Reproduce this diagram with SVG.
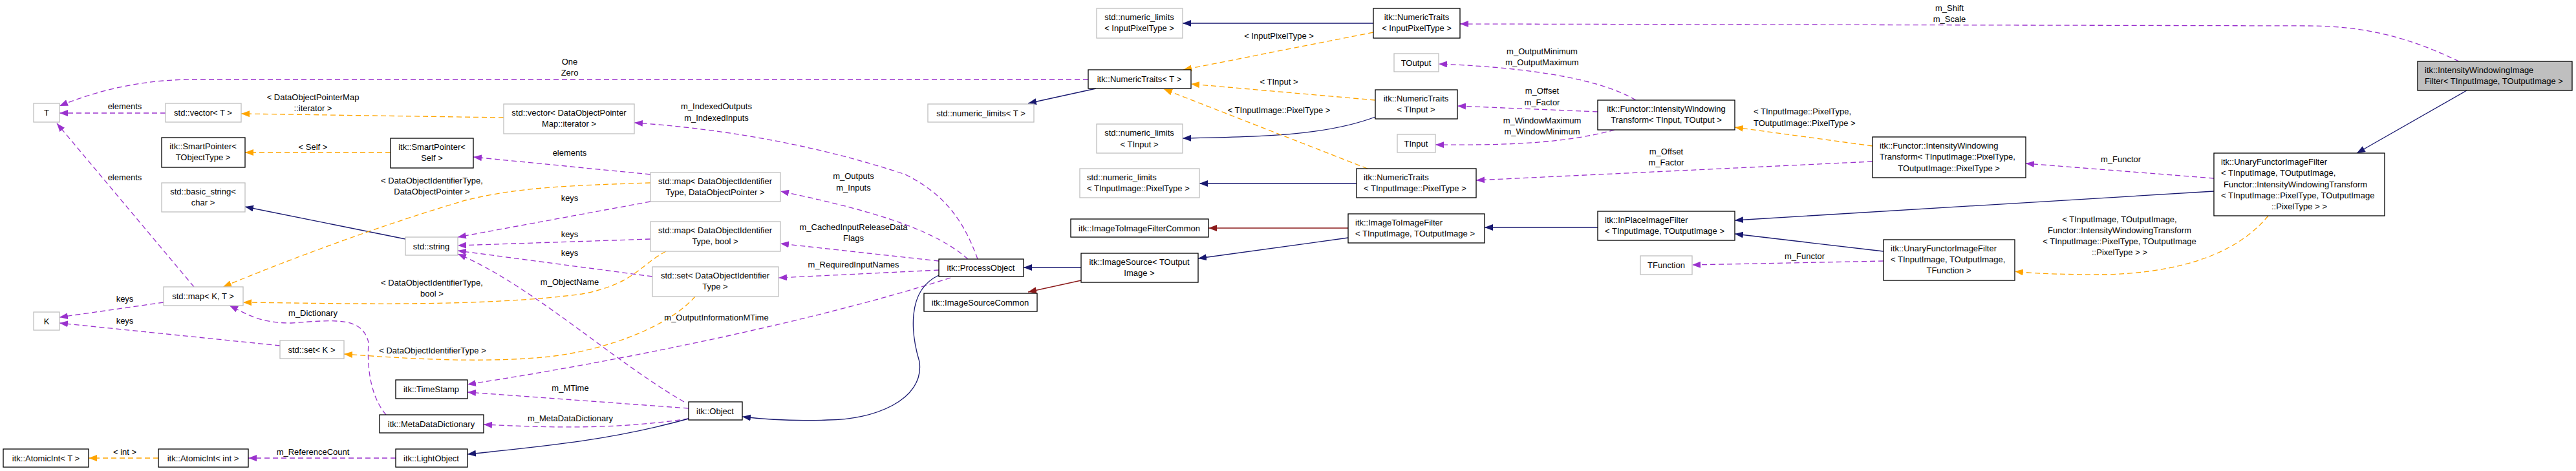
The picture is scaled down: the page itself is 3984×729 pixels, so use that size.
<svg xmlns="http://www.w3.org/2000/svg" width="3984" height="729" viewBox="0 0 3984 729">
<style>
text{font-family:"Liberation Sans",Arial,sans-serif;font-size:13px;fill:#000}
.c{text-anchor:middle}
.b{fill:#fff;stroke:#000;stroke-width:1.3}
.g{fill:#fff;stroke:#bfbfbf;stroke-width:1.3}
.s{fill:#bfbfbf;stroke:#000;stroke-width:1.3}
.nv{fill:none;stroke:#191970;stroke-width:1.3}
.rd{fill:none;stroke:#8b1a1a;stroke-width:1.3}
.pu{fill:none;stroke:#9a32cd;stroke-width:1.3;stroke-dasharray:8,5}
.or{fill:none;stroke:#ffa500;stroke-width:1.3;stroke-dasharray:8,5}
</style>
<defs>
<marker id="aN" markerUnits="userSpaceOnUse" markerWidth="14" markerHeight="10" refX="13" refY="5" orient="auto"><path d="M0,0L13,5L0,10z" fill="#191970"/></marker>
<marker id="aR" markerUnits="userSpaceOnUse" markerWidth="14" markerHeight="10" refX="13" refY="5" orient="auto"><path d="M0,0L13,5L0,10z" fill="#8b1a1a"/></marker>
<marker id="aP" markerUnits="userSpaceOnUse" markerWidth="14" markerHeight="10" refX="13" refY="5" orient="auto"><path d="M0,0L13,5L0,10z" fill="#9a32cd"/></marker>
<marker id="aO" markerUnits="userSpaceOnUse" markerWidth="14" markerHeight="10" refX="13" refY="5" orient="auto"><path d="M0,0L13,5L0,10z" fill="#ffa500"/></marker>
</defs>
<rect width="3984" height="729" fill="#fff"/>
<g id="edges">
<path class="pu" marker-end="url(#aP)" d="M1683,123 L300,123 C220,123 150,140 92,164"/>
<text class="c" x="881" y="100">One</text><text class="c" x="881" y="117">Zero</text>
<path class="pu" marker-end="url(#aP)" d="M256,175 L92,175"/>
<text class="c" x="193" y="169">elements</text>
<path class="pu" marker-end="url(#aP)" d="M300,444 L88,191"/>
<text class="c" x="193" y="279">elements</text>
<path class="or" marker-end="url(#aO)" d="M779,182 L373,176"/>
<text class="c" x="484" y="155">&lt; DataObjectPointerMap</text><text class="c" x="484" y="172">::iterator &gt;</text>
<path class="or" marker-end="url(#aO)" d="M604,236 L379,236"/>
<text class="c" x="484" y="232">&lt; Self &gt;</text>
<path class="nv" marker-end="url(#aN)" d="M627,370 L379,320"/>
<path class="pu" marker-end="url(#aP)" d="M253,468 L92,491"/>
<text class="c" x="193" y="467">keys</text>
<path class="pu" marker-end="url(#aP)" d="M433,535 L92,500"/>
<text class="c" x="193" y="501">keys</text>
<path class="or" marker-end="url(#aO)" d="M1006,283 C880,287 800,290 720,310 C600,345 450,400 345,444"/>
<text class="c" x="668" y="284">&lt; DataObjectIdentifierType,</text><text class="c" x="668" y="301">DataObjectPointer &gt;</text>
<path class="or" marker-end="url(#aO)" d="M1030,389 C990,410 980,440 900,455 C750,475 550,470 376,468"/>
<text class="c" x="668" y="442">&lt; DataObjectIdentifierType,</text><text class="c" x="668" y="459">bool &gt;</text>
<path class="or" marker-end="url(#aO)" d="M1075,459 C1040,500 950,540 850,552 C750,562 640,556 532,548"/>
<text class="c" x="669" y="547">&lt; DataObjectIdentifierType &gt;</text>
<path class="pu" marker-end="url(#aP)" d="M1006,270 L732,243"/>
<text class="c" x="881" y="241">elements</text>
<path class="pu" marker-end="url(#aP)" d="M1006,312 L708,367"/>
<text class="c" x="881" y="311">keys</text>
<path class="pu" marker-end="url(#aP)" d="M1006,370 L708,380"/>
<text class="c" x="881" y="367">keys</text>
<path class="pu" marker-end="url(#aP)" d="M1009,428 L708,388"/>
<text class="c" x="881" y="396">keys</text>
<path class="pu" marker-end="url(#aP)" d="M1058,622 C950,560 820,440 708,393"/>
<text class="c" x="881" y="441">m_ObjectName</text>
<path class="pu" marker-end="url(#aP)" d="M1512,401 C1490,340 1460,300 1400,270 C1250,220 1100,198 981,190"/>
<text class="c" x="1108" y="169">m_IndexedOutputs</text><text class="c" x="1108" y="187">m_IndexedInputs</text>
<path class="pu" marker-end="url(#aP)" d="M1497,401 C1450,360 1370,330 1207,296"/>
<text class="c" x="1320" y="277">m_Outputs</text><text class="c" x="1320" y="295">m_Inputs</text>
<path class="pu" marker-end="url(#aP)" d="M1452,404 L1207,377"/>
<text class="c" x="1320" y="356">m_CachedInputReleaseData</text><text class="c" x="1320" y="373">Flags</text>
<path class="pu" marker-end="url(#aP)" d="M1452,418 L1204,430"/>
<text class="c" x="1320" y="414">m_RequiredInputNames</text>
<path class="pu" marker-end="url(#aP)" d="M1470,430 C1250,500 950,560 723,595"/>
<text class="c" x="1108" y="496">m_OutputInformationMTime</text>
<path class="pu" marker-end="url(#aP)" d="M1065,632 L723,607"/>
<text class="c" x="882" y="605">m_MTime</text>
<path class="pu" marker-end="url(#aP)" d="M1065,648 C950,665 850,662 748,657"/>
<text class="c" x="882" y="652">m_MetaDataDictionary</text>
<path class="pu" marker-end="url(#aP)" d="M597,642 C570,610 568,560 570,530 C560,490 520,495 450,500 C400,500 380,485 355,473"/>
<text class="c" x="484" y="489">m_Dictionary</text>
<path class="pu" marker-end="url(#aP)" d="M612,709 L384,709"/>
<text class="c" x="484" y="704">m_ReferenceCount</text>
<path class="or" marker-end="url(#aO)" d="M245,709 L137,709"/>
<text class="c" x="193" y="704">&lt; int &gt;</text>
<path class="nv" marker-end="url(#aN)" d="M1065,648 C950,680 850,690 723,703"/>
<path class="nv" marker-end="url(#aN)" d="M1452,426 C1400,450 1410,520 1422,560 C1430,620 1350,650 1280,650 C1230,652 1190,650 1148,645"/>
<path class="nv" marker-end="url(#aN)" d="M1672,414 L1583,414"/>
<path class="rd" marker-end="url(#aR)" d="M1672,434 L1590,452"/>
<path class="nv" marker-end="url(#aN)" d="M2085,368 L1853,400"/>
<path class="rd" marker-end="url(#aR)" d="M2085,353 L1869,353"/>
<path class="nv" marker-end="url(#aN)" d="M1695,137 L1590,160"/>
<path class="nv" marker-end="url(#aN)" d="M2124,36 L1829,36"/>
<path class="nv" marker-end="url(#aN)" d="M2127,181 C2050,210 1950,212 1829,214"/>
<path class="nv" marker-end="url(#aN)" d="M2098,284 L1855,284"/>
<path class="or" marker-end="url(#aO)" d="M2124,50 L1830,108"/>
<text class="c" x="1978" y="60">&lt; InputPixelType &gt;</text>
<path class="or" marker-end="url(#aO)" d="M2127,155 L1842,130"/>
<text class="c" x="1978" y="131">&lt; TInput &gt;</text>
<path class="or" marker-end="url(#aO)" d="M2115,261 L1800,138"/>
<text class="c" x="1978" y="175">&lt; TInputImage::PixelType &gt;</text>
<path class="pu" marker-end="url(#aP)" d="M3803,95 C3750,70 3680,40 3570,40 L2258,37"/>
<text class="c" x="3015" y="17">m_Shift</text><text class="c" x="3015" y="34">m_Scale</text>
<path class="nv" marker-end="url(#aN)" d="M3815,140 L3645,237"/>
<path class="pu" marker-end="url(#aP)" d="M3424,276 L3133,253"/>
<text class="c" x="3280" y="251">m_Functor</text>
<path class="nv" marker-end="url(#aN)" d="M3424,296 L2683,341"/>
<path class="or" marker-end="url(#aO)" d="M3508,334 C3470,380 3400,420 3260,425 C3200,425 3150,424 3116,420"/>
<text class="c" x="3278" y="344">&lt; TInputImage, TOutputImage,</text><text class="c" x="3278" y="361">Functor::IntensityWindowingTransform</text><text class="c" x="3278" y="378">&lt; TInputImage::PixelType, TOutputImage</text><text class="c" x="3278" y="395">::PixelType &gt; &gt;</text>
<path class="nv" marker-end="url(#aN)" d="M2913,389 L2683,362"/>
<path class="pu" marker-end="url(#aP)" d="M2913,404 L2617,410"/>
<text class="c" x="2791" y="401">m_Functor</text>
<path class="nv" marker-end="url(#aN)" d="M2471,352 L2296,352"/>
<path class="or" marker-end="url(#aO)" d="M2896,226 L2683,197"/>
<text x="2712" y="177">&lt; TInputImage::PixelType,</text><text x="2712" y="195">TOutputImage::PixelType &gt;</text>
<path class="pu" marker-end="url(#aP)" d="M2896,250 L2283,279"/>
<text class="c" x="2577" y="239">m_Offset</text><text class="c" x="2577" y="256">m_Factor</text>
<path class="pu" marker-end="url(#aP)" d="M2530,155 C2480,125 2380,105 2225,99"/>
<text class="c" x="2385" y="84">m_OutputMinimum</text><text class="c" x="2385" y="101">m_OutputMaximum</text>
<path class="pu" marker-end="url(#aP)" d="M2471,173 L2254,164"/>
<text class="c" x="2385" y="145">m_Offset</text><text class="c" x="2385" y="163">m_Factor</text>
<path class="pu" marker-end="url(#aP)" d="M2497,201 C2420,222 2330,225 2220,224"/>
<text class="c" x="2385" y="191">m_WindowMaximum</text><text class="c" x="2385" y="208">m_WindowMinimum</text>
</g>
<g id="T"><rect class="g" x="52" y="160" width="40" height="29"/><text class="c" x="72" y="179">T</text></g>
<g id="vecT"><rect class="g" x="256" y="160" width="117" height="29"/><text class="c" x="314" y="179">std::vector&lt; T &gt;</text></g>
<g id="spTO"><rect class="b" x="250" y="213" width="129" height="46"/><text class="c" x="314" y="231">itk::SmartPointer&lt;</text><text class="c" x="314" y="248">TObjectType &gt;</text></g>
<g id="bstr"><rect class="g" x="250" y="283" width="129" height="45"/><text class="c" x="314" y="301">std::basic_string&lt;</text><text class="c" x="314" y="318">char &gt;</text></g>
<g id="mapKT"><rect class="g" x="253" y="444" width="123" height="29"/><text class="c" x="314" y="463">std::map&lt; K, T &gt;</text></g>
<g id="K"><rect class="g" x="52" y="483" width="40" height="28"/><text class="c" x="72" y="502">K</text></g>
<g id="setK"><rect class="g" x="433" y="527" width="99" height="28"/><text class="c" x="482" y="546">std::set&lt; K &gt;</text></g>
<g id="atomT"><rect class="b" x="5" y="695" width="132" height="28"/><text class="c" x="71" y="714">itk::AtomicInt&lt; T &gt;</text></g>
<g id="atomInt"><rect class="b" x="245" y="695" width="139" height="28"/><text class="c" x="314" y="714">itk::AtomicInt&lt; int &gt;</text></g>
<g id="spSelf"><rect class="b" x="604" y="214" width="128" height="46"/><text class="c" x="668" y="232">itk::SmartPointer&lt;</text><text class="c" x="668" y="249">Self &gt;</text></g>
<g id="str"><rect class="g" x="627" y="367" width="81" height="28"/><text class="c" x="667" y="386">std::string</text></g>
<g id="timestamp"><rect class="b" x="612" y="588" width="111" height="29"/><text class="c" x="667" y="607">itk::TimeStamp</text></g>
<g id="mdd"><rect class="b" x="587" y="642" width="161" height="28"/><text class="c" x="667" y="661">itk::MetaDataDictionary</text></g>
<g id="light"><rect class="b" x="612" y="695" width="111" height="28"/><text class="c" x="667" y="714">itk::LightObject</text></g>
<g id="vecIt"><rect class="g" x="779" y="161" width="202" height="46"/><text class="c" x="880" y="179">std::vector&lt; DataObjectPointer</text><text class="c" x="880" y="196">Map::iterator &gt;</text></g>
<g id="mapDOP"><rect class="g" x="1006" y="267" width="201" height="45"/><text class="c" x="1106" y="285">std::map&lt; DataObjectIdentifier</text><text class="c" x="1106" y="302">Type, DataObjectPointer &gt;</text></g>
<g id="mapBool"><rect class="g" x="1006" y="343" width="201" height="46"/><text class="c" x="1106" y="361">std::map&lt; DataObjectIdentifier</text><text class="c" x="1106" y="378">Type, bool &gt;</text></g>
<g id="setDOI"><rect class="g" x="1009" y="413" width="195" height="46"/><text class="c" x="1106" y="431">std::set&lt; DataObjectIdentifier</text><text class="c" x="1106" y="448">Type &gt;</text></g>
<g id="object"><rect class="b" x="1065" y="622" width="83" height="28"/><text class="c" x="1106" y="641">itk::Object</text></g>
<g id="proc"><rect class="b" x="1452" y="401" width="131" height="27"/><text class="c" x="1517" y="419">itk::ProcessObject</text></g>
<g id="isc"><rect class="b" x="1429" y="454" width="175" height="28"/><text class="c" x="1516" y="473">itk::ImageSourceCommon</text></g>
<g id="isrc"><rect class="b" x="1672" y="392" width="181" height="45"/><text class="c" x="1762" y="410">itk::ImageSource&lt; TOutput</text><text class="c" x="1762" y="427">Image &gt;</text></g>
<g id="itifc"><rect class="b" x="1656" y="339" width="213" height="28"/><text class="c" x="1762" y="358">itk::ImageToImageFilterCommon</text></g>
<g id="nlIPT"><rect class="g" x="1696" y="13" width="133" height="46"/><text class="c" x="1762" y="31">std::numeric_limits</text><text class="c" x="1762" y="48">&lt; InputPixelType &gt;</text></g>
<g id="ntT"><rect class="b" x="1683" y="108" width="159" height="29"/><text class="c" x="1762" y="127">itk::NumericTraits&lt; T &gt;</text></g>
<g id="nlT"><rect class="g" x="1435" y="161" width="164" height="28"/><text class="c" x="1517" y="180">std::numeric_limits&lt; T &gt;</text></g>
<g id="nlTI"><rect class="g" x="1696" y="192" width="133" height="45"/><text class="c" x="1762" y="210">std::numeric_limits</text><text class="c" x="1762" y="228">&lt; TInput &gt;</text></g>
<g id="nlTIP"><rect class="g" x="1670" y="261" width="185" height="45"/><text x="1681" y="279">std::numeric_limits</text><text x="1681" y="296">&lt; TInputImage::PixelType &gt;</text></g>
<g id="ntIPT"><rect class="b" x="2124" y="13" width="134" height="46"/><text class="c" x="2191" y="31">itk::NumericTraits</text><text class="c" x="2191" y="48">&lt; InputPixelType &gt;</text></g>
<g id="tout"><rect class="g" x="2156" y="83" width="69" height="28"/><text class="c" x="2190" y="102">TOutput</text></g>
<g id="ntTI"><rect class="b" x="2127" y="139" width="127" height="45"/><text class="c" x="2190" y="157">itk::NumericTraits</text><text class="c" x="2190" y="174">&lt; TInput &gt;</text></g>
<g id="tin"><rect class="g" x="2161" y="208" width="59" height="28"/><text class="c" x="2190" y="227">TInput</text></g>
<g id="ntTIP"><rect class="b" x="2098" y="261" width="185" height="45"/><text x="2109" y="279">itk::NumericTraits</text><text x="2109" y="296">&lt; TInputImage::PixelType &gt;</text></g>
<g id="itif"><rect class="b" x="2085" y="331" width="211" height="45"/><text x="2096" y="349">itk::ImageToImageFilter</text><text x="2096" y="366">&lt; TInputImage, TOutputImage &gt;</text></g>
<g id="iwt1"><rect class="b" x="2471" y="155" width="212" height="46"/><text class="c" x="2577" y="173">itk::Functor::IntensityWindowing</text><text class="c" x="2577" y="190">Transform&lt; TInput, TOutput &gt;</text></g>
<g id="ipif"><rect class="b" x="2471" y="327" width="212" height="45"/><text x="2482" y="345">itk::InPlaceImageFilter</text><text x="2482" y="362">&lt; TInputImage, TOutputImage &gt;</text></g>
<g id="tfunc"><rect class="g" x="2537" y="396" width="80" height="29"/><text class="c" x="2577" y="415">TFunction</text></g>
<g id="iwt2"><rect class="b" x="2896" y="212" width="237" height="63"/><text x="2907" y="230">itk::Functor::IntensityWindowing</text><text x="2907" y="247">Transform&lt; TInputImage::PixelType,</text><text class="c" x="3014" y="265">TOutputImage::PixelType &gt;</text></g>
<g id="ufif2"><rect class="b" x="2913" y="371" width="203" height="63"/><text x="2924" y="389">itk::UnaryFunctorImageFilter</text><text x="2924" y="406">&lt; TInputImage, TOutputImage,</text><text class="c" x="3014" y="423">TFunction &gt;</text></g>
<g id="iwif"><rect class="s" x="3739" y="95" width="239" height="45"/><text x="3750" y="113">itk::IntensityWindowingImage</text><text x="3750" y="130">Filter&lt; TInputImage, TOutputImage &gt;</text></g>
<g id="ufif1"><rect class="b" x="3424" y="237" width="264" height="97"/><text x="3435" y="255">itk::UnaryFunctorImageFilter</text><text x="3435" y="272">&lt; TInputImage, TOutputImage,</text><text x="3439" y="290">Functor::IntensityWindowingTransform</text><text x="3435" y="307">&lt; TInputImage::PixelType, TOutputImage</text><text class="c" x="3556" y="324">::PixelType &gt; &gt;</text></g>
</svg>
